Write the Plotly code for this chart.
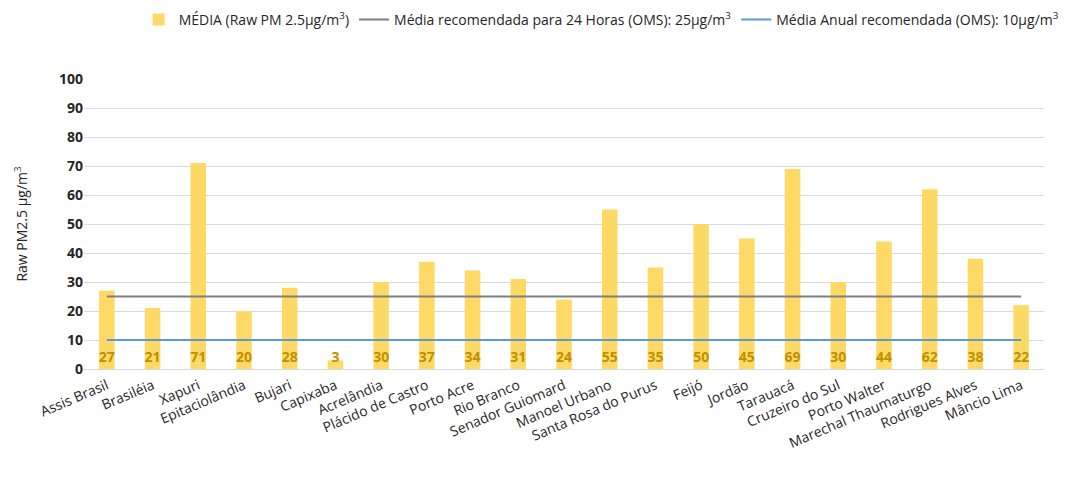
import plotly.graph_objects as go

cities = ["Assis Brasil", "Brasiléia", "Xapuri", "Epitaciolândia", "Bujari", "Capixaba",
          "Acrelândia", "Plácido de Castro", "Porto Acre", "Rio Branco", "Senador Guiomard",
          "Manoel Urbano", "Santa Rosa do Purus", "Feijó", "Jordão", "Tarauacá",
          "Cruzeiro do Sul", "Porto Walter", "Marechal Thaumaturgo", "Rodrigues Alves", "Mâncio Lima"]
media = [27, 21, 71, 20, 28, 3, 30, 37, 34, 31, 24, 55, 35, 50, 45, 69, 30, 44, 62, 38, 22]
ref24h = [25] * len(cities)
refAnual = [10] * len(cities)
y_ticks = list(range(0, 101, 10))

font = "Open Sans"

fig = go.Figure()
fig.add_trace(go.Bar(
    x=cities, y=media, name="MÉDIA (Raw PM 2.5μg/m<sup>3</sup>)",
    marker=dict(color="#FFD966", line=dict(width=0)),
    text=[str(v) for v in media], textposition="inside", insidetextanchor="start",
    textangle=0, constraintext="none",
    textfont=dict(color="#BF9000", size=14, family=font, weight="bold"),
    cliponaxis=False,
))
fig.add_trace(go.Scatter(
    x=cities, y=ref24h, mode="lines",
    name="Média recomendada para 24 Horas (OMS): 25μg/m<sup>3</sup>",
    line=dict(color="#7F7F7F", width=2),
))
fig.add_trace(go.Scatter(
    x=cities, y=refAnual, mode="lines",
    name="Média Anual recomendada (OMS): 10μg/m<sup>3</sup>",
    line=dict(color="#5B9BD5", width=2),
))

fig.update_layout(
    width=1070, height=478,
    margin=dict(l=84, r=26, t=79, b=109, autoexpand=False),
    plot_bgcolor="white", paper_bgcolor="white",
    bargap=0.66,
    font=dict(family=font, size=14, color="#262626"),
    showlegend=True,
    legend=dict(orientation="h", x=0.995, xanchor="right", xref="container",
                y=0.992, yanchor="top", yref="container",
                font=dict(size=14, color="#262626"), traceorder="normal",
                itemwidth=30, tracegroupgap=0),
    xaxis=dict(tickangle=-23, tickfont=dict(size=14, color="#262626"),
               showgrid=False, showline=False, ticks="", automargin=False,
               ticklabelstandoff=5),
    yaxis=dict(range=[0, 100], tickvals=y_ticks, showgrid=True, gridcolor="#D9D9D9",
               zeroline=True, zerolinecolor="#D9D9D9", zerolinewidth=1, automargin=False,
               tickfont=dict(size=14, color="#262626", family=font, weight="bold"),
               title=dict(text="Raw PM2.5 µg/m<sup>3</sup>", font=dict(size=14, color="#262626"),
                          standoff=28)),
)

fig.write_html("out.html", config={"displayModeBar": False},
               post_script="document.body.style.margin='0';document.body.style.overflow='hidden';")
